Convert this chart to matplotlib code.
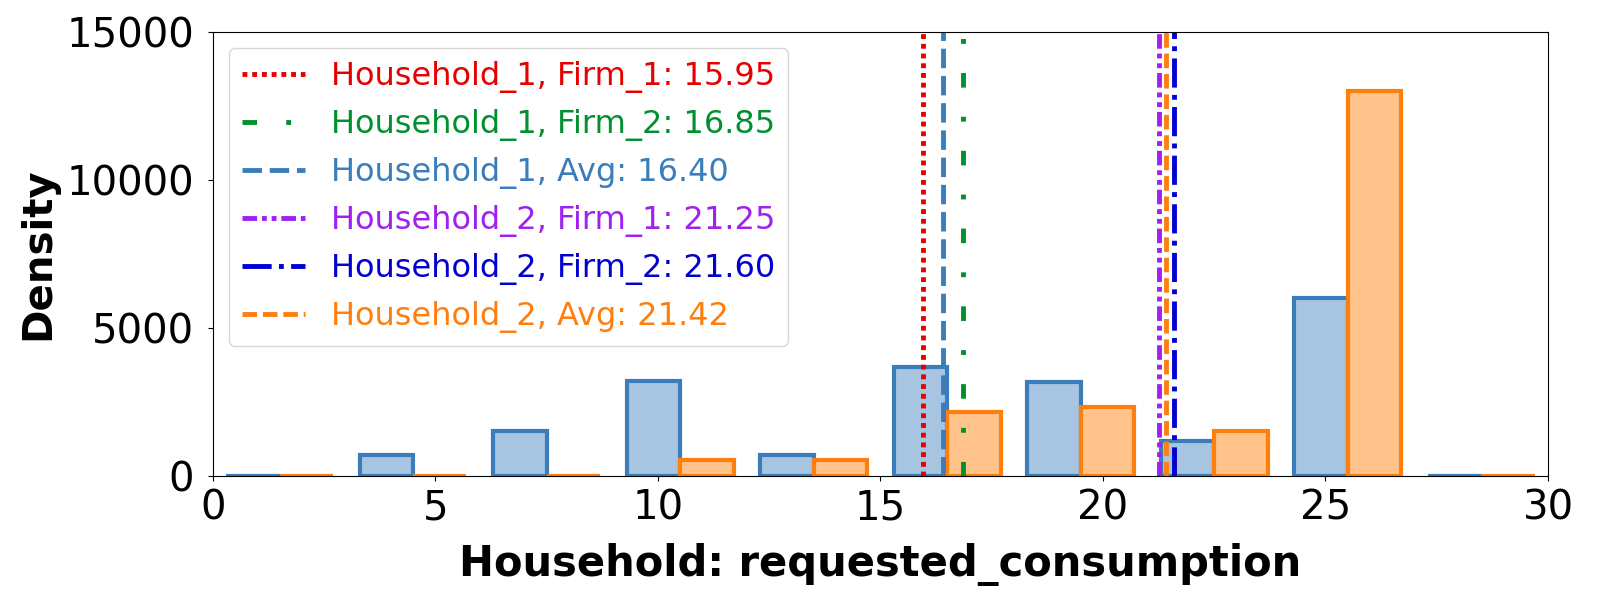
import numpy as np
import matplotlib
matplotlib.use("Agg")
import matplotlib.pyplot as plt

# histogram data (bins of width 3 from 0 to 30)
bin_edges = np.arange(0, 33, 3)
household_1 = [0, 690, 1520, 3200, 690, 3680, 3180, 1160, 6000, 0]
household_2 = [0, 0, 0, 520, 520, 2150, 2320, 1500, 13000, 0]

# reference lines
line_labels = ["Household_1, Firm_1", "Household_1, Firm_2", "Household_1, Avg",
               "Household_2, Firm_1", "Household_2, Firm_2", "Household_2, Avg"]
line_values = [15.95, 16.85, 16.40, 21.25, 21.60, 21.42]
line_colors = ["#e60000", "#00902e", "#3a7dba", "#a020f0", "#0000d0", "#ff7f0e"]
line_styles = [(0, (1, 1)), (0, (3, 6, 1, 6)), (0, (4, 1.6)),
               (0, (3, 1, 1, 1, 1, 1)), (0, (6, 1.5, 1, 1.5)), (0, (3, 1.2))]


def main():
    fig, ax = plt.subplots(figsize=(16, 6), dpi=100)
    fig.subplots_adjust(left=0.133, right=0.9675, top=0.946, bottom=0.2075)

    # dodge bars like seaborn histplot(multiple="dodge", shrink=0.8)
    width = np.diff(bin_edges)
    left = bin_edges[:-1] + width * 0.1
    half = width * 0.8 / 2
    ax.bar(left, household_1, width=half, align="edge",
           facecolor="#a7c5e1", edgecolor="#3a7dba", linewidth=3)
    ax.bar(left + half, household_2, width=half, align="edge",
           facecolor="#ffc38b", edgecolor="#ff7f0e", linewidth=3)

    for lab, val, col, ls in zip(line_labels, line_values, line_colors, line_styles):
        ax.axvline(val, color=col, linestyle=ls, linewidth=3.5,
                   label=f"{lab}: {val:.2f}")

    ax.set_xlim(0, 30)
    ax.set_ylim(0, 15000)
    ax.set_xticks(np.arange(0, 31, 5))
    ax.set_yticks([0, 5000, 10000, 15000])
    ax.tick_params(labelsize=29)
    ax.tick_params(axis="y", pad=10)
    ax.tick_params(axis="x", pad=6)
    ax.set_xlabel("Household: requested_consumption", fontsize=30,
                  fontweight="bold", labelpad=10)
    ax.set_ylabel("Density", fontsize=29, fontweight="bold", labelpad=6)

    leg = ax.legend(loc="upper left", fontsize=23)
    for text, col in zip(leg.get_texts(), line_colors):
        text.set_color(col)

    fig.savefig("out.png")


if __name__ == "__main__":
    main()
